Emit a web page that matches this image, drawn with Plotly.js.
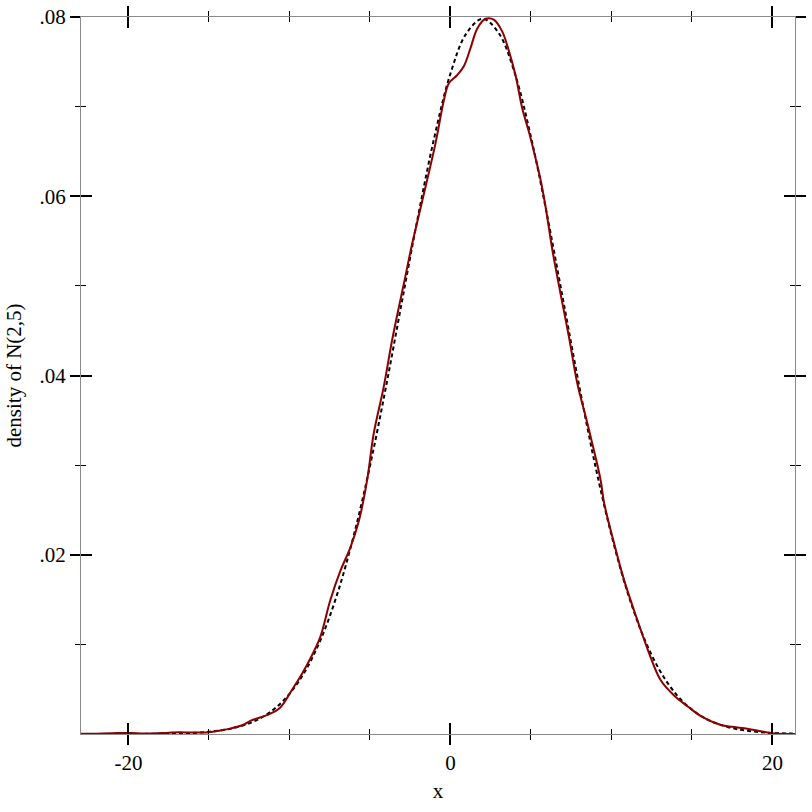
<!DOCTYPE html>
<html>
<head>
<meta charset="utf-8">
<script src="https://cdn.plot.ly/plotly-3.0.1.min.js"></script>
<style>html,body{margin:0;padding:0;background:#fff;}#chart{width:812px;height:812px;}</style>
</head>
<body>
<div id="chart"></div>
<script>
// Dashed curve: density of N(2,5)
var normX = [-22.95, -22, -21, -20, -19, -18, -17, -16, -15, -14, -13, -12, -11, -10, -9, -8, -7, -6, -5, -4, -3, -2, -1, 0, 1, 2, 3, 4, 5, 6, 7, 8, 9, 10, 11, 12, 13, 14, 15, 16, 17, 18, 19, 20, 21, 21.4];
var normY = [0.0000003, 0.0000008, 0.000002, 0.000005, 0.0000118, 0.0000268, 0.0000583, 0.000122, 0.000247, 0.000477, 0.000886, 0.00158, 0.00272, 0.00448, 0.00709, 0.0108, 0.0158, 0.0222, 0.0299, 0.0388, 0.0484, 0.0579, 0.0666, 0.0737, 0.0782, 0.0798, 0.0782, 0.0737, 0.0666, 0.0579, 0.0484, 0.0388, 0.0299, 0.0222, 0.0158, 0.0108, 0.00709, 0.00448, 0.00272, 0.00158, 0.000886, 0.000477, 0.000247, 0.000122, 0.0000583, 0.00004];

// Solid dark red curve: estimated sample density
var kdeX = [-22.95, -22, -21, -20.3, -19.5, -18.5, -17.5, -16.8, -16, -15, -14.3, -13.7, -12.9, -12.4, -11.4, -10.6, -9.85, -9.23, -8.71, -8.09, -7.47, -6.84, -6.22, -5.7, -5.18, -4.77, -4.15, -3.63, -3.21, -2.9, -2.38, -1.87, -0.93, -0.41, -0.1, 0.41, 0.83, 1.24, 1.66, 2.18, 2.69, 3.21, 3.63, 4.04, 4.46, 4.87, 5.29, 5.6, 5.91, 6.33, 6.84, 7.36, 7.88, 8.4, 8.81, 9.33, 9.54, 10.16, 10.78, 11.61, 12.34, 13.06, 13.89, 14.72, 15.55, 16.8, 17.5, 18.25, 19.28, 20.1, 21.4];
var kdeY = [0.00002, 0.00004, 0.00008, 0.00012, 0.00008, 0.00005, 0.00015, 0.0002, 0.00016, 0.0002, 0.0004, 0.0006, 0.001, 0.0015, 0.0021, 0.0029, 0.0049, 0.0067, 0.0084, 0.0108, 0.0149, 0.0182, 0.0208, 0.0237, 0.0283, 0.0335, 0.0387, 0.0439, 0.0476, 0.0502, 0.0547, 0.0586, 0.0659, 0.0707, 0.0726, 0.0735, 0.0745, 0.0765, 0.0787, 0.0798, 0.0797, 0.0784, 0.0762, 0.0735, 0.0698, 0.0672, 0.0642, 0.0618, 0.0588, 0.054, 0.0491, 0.0443, 0.0391, 0.0354, 0.0324, 0.0283, 0.0258, 0.0213, 0.0172, 0.0127, 0.009, 0.006, 0.0043, 0.0031, 0.002, 0.001, 0.0008, 0.00065, 0.0003, 0.00005, 0.0];

// Tick labels
var xMajor = [-20, 0, 20];
var xMajorText = ['-20', '0', '20'];
var xMinor = [-15, -10, -5, 5, 10, 15];
var yMajor = [0.02, 0.04, 0.06, 0.08];
var yMajorText = ['.02', '.04', '.06', '.08'];
var yMinor = [0.01, 0.03, 0.05, 0.07];

var xTitle = 'x';
var yTitle = 'density of N(2,5)';

var xRange = [-22.95, 21.4];
var yRange = [0, 0.08];
var axisGray = '#8a8a8a';
var FONT = 'Liberation Serif, Times New Roman, serif';

var traces = [
  {x: normX, y: normY, xaxis: 'x', yaxis: 'y', mode: 'lines', type: 'scatter',
   line: {color: 'black', width: 2, dash: '4px,3px', shape: 'spline'}, hoverinfo: 'skip'},
  {x: kdeX, y: kdeY, xaxis: 'x2', yaxis: 'y2', mode: 'lines', type: 'scatter',
   line: {color: '#8b0000', width: 2, shape: 'spline'}, hoverinfo: 'skip'}
];

function baseAxis(range) {
  return {range: range, autorange: false, showgrid: false, zeroline: false,
          showline: true, linecolor: axisGray, linewidth: 1, mirror: 'ticks',
          tickcolor: 'black', tickwidth: 2, tickmode: 'array'};
}

var xa = baseAxis(xRange);
Object.assign(xa, {tickvals: xMajor, ticktext: xMajorText, ticks: 'outside', ticklen: 10,
  minor: {tickmode: 'array', tickvals: xMinor, ticks: 'outside', ticklen: 5, tickwidth: 1, tickcolor: 'black', showgrid: false},
  title: {text: xTitle, font: {family: FONT, size: 21, color: 'black'}, standoff: 9},
  tickfont: {family: FONT, size: 21, color: 'black'}, automargin: false});

var xa2 = baseAxis(xRange);
Object.assign(xa2, {overlaying: 'x', anchor: 'y', tickvals: xMajor, ticks: 'inside', ticklen: 11, showticklabels: false,
  minor: {tickmode: 'array', tickvals: xMinor, ticks: 'inside', ticklen: 5, tickwidth: 1, tickcolor: 'black', showgrid: false}});

var ya = baseAxis(yRange);
Object.assign(ya, {tickvals: yMajor, ticktext: yMajorText, ticks: 'outside', ticklen: 10,
  minor: {tickmode: 'array', tickvals: yMinor, ticks: 'outside', ticklen: 5, tickwidth: 1, tickcolor: 'black', showgrid: false},
  title: {text: yTitle, font: {family: FONT, size: 21, color: 'black'}, standoff: 12},
  tickfont: {family: FONT, size: 21, color: 'black'}, automargin: false});

var ya2 = baseAxis(yRange);
Object.assign(ya2, {overlaying: 'y', anchor: 'x', tickvals: yMajor, ticks: 'inside', ticklen: 11, showticklabels: false,
  minor: {tickmode: 'array', tickvals: yMinor, ticks: 'inside', ticklen: 5, tickwidth: 1, tickcolor: 'black', showgrid: false}});

var layout = {
  width: 812, height: 812,
  margin: {l: 81, r: 17, t: 17, b: 78, pad: 0},
  paper_bgcolor: 'white', plot_bgcolor: 'white',
  font: {family: FONT, size: 21, color: 'black'},
  showlegend: false, hovermode: false,
  xaxis: xa, xaxis2: xa2, yaxis: ya, yaxis2: ya2
};

Plotly.newPlot('chart', traces, layout, {staticPlot: true, displayModeBar: false});
</script>
</body>
</html>
